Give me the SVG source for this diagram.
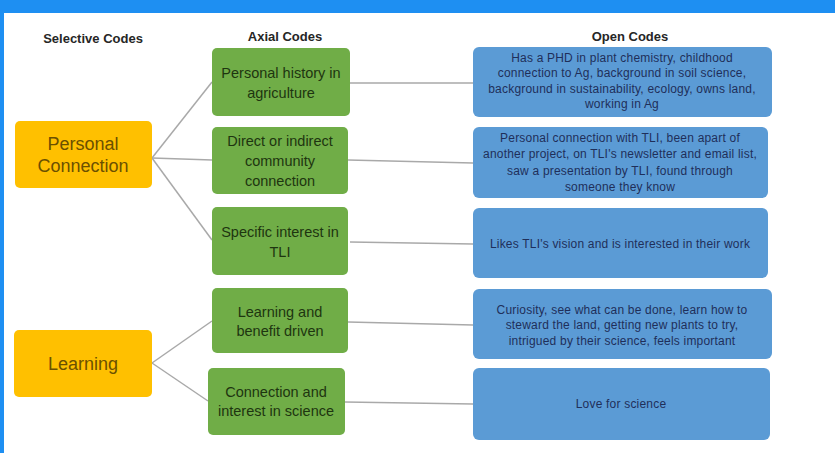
<svg xmlns="http://www.w3.org/2000/svg" width="835" height="453" viewBox="0 0 835 453">
<style>
.hdr{font-family:"Liberation Sans",Arial,sans-serif;font-size:13px;font-weight:bold;fill:#262626;text-anchor:middle}
.sel rect{fill:#FFC000}
.sel text{font-family:"Liberation Sans",Arial,sans-serif;font-size:18px;fill:#6B5000;text-anchor:middle}
.ax rect{fill:#70AD47}
.ax text{font-family:"Liberation Sans",Arial,sans-serif;font-size:14.5px;fill:#1E3510;text-anchor:middle}
.op rect{fill:#5B9BD5}
.op text{font-family:"Liberation Sans",Arial,sans-serif;font-size:12px;letter-spacing:0.2px;fill:#1F2F5A;text-anchor:middle}
#connectors line{stroke:#A9A9A9;stroke-width:1.5}
</style>
<rect width="835" height="453" fill="#FFFFFF"/>
<rect x="0" y="0" width="835" height="13" fill="#1E8FF2"/>
<rect x="0" y="0" width="4" height="453" fill="#1E8FF2"/>

<text class="hdr" x="93" y="43">Selective Codes</text>
<text class="hdr" x="285" y="41">Axial Codes</text>
<text class="hdr" x="630" y="41">Open Codes</text>

<g id="connectors">
<line x1="152" y1="158" x2="212" y2="82"/>
<line x1="152" y1="158" x2="212" y2="160"/>
<line x1="152" y1="158" x2="212" y2="240"/>
<line x1="152" y1="363" x2="212" y2="321"/>
<line x1="152" y1="363" x2="208" y2="401"/>
<line x1="350" y1="83" x2="473" y2="83"/>
<line x1="348" y1="160" x2="473" y2="163"/>
<line x1="350" y1="242" x2="473" y2="244"/>
<line x1="348" y1="322" x2="473" y2="325"/>
<line x1="345" y1="402" x2="473" y2="404"/>
</g>

<g id="sel-personal" class="sel">
<rect x="15" y="121" width="137" height="67" rx="5"/>
<text x="83" y="150">Personal</text>
<text x="83" y="172">Connection</text>
</g>
<g id="sel-learning" class="sel">
<rect x="14" y="330" width="138" height="67" rx="5"/>
<text x="83" y="370">Learning</text>
</g>

<g id="ax-history" class="ax">
<rect x="212" y="48" width="138" height="68" rx="5"/>
<text x="281" y="78">Personal history in</text>
<text x="281" y="98">agriculture</text>
</g>
<g id="ax-community" class="ax">
<rect x="212" y="127" width="136" height="67" rx="5"/>
<text x="280" y="146">Direct or indirect</text>
<text x="280" y="166">community</text>
<text x="280" y="186">connection</text>
</g>
<g id="ax-tli" class="ax">
<rect x="212" y="207" width="136" height="68" rx="5"/>
<text x="280" y="237">Specific interest in</text>
<text x="280" y="257">TLI</text>
</g>
<g id="ax-benefit" class="ax">
<rect x="212" y="288" width="136" height="65" rx="5"/>
<text x="280" y="317">Learning and</text>
<text x="280" y="336">benefit driven</text>
</g>
<g id="ax-science" class="ax">
<rect x="208" y="368" width="137" height="67" rx="5"/>
<text x="276" y="397">Connection and</text>
<text x="276" y="416">interest in science</text>
</g>

<g id="op-history" class="op">
<rect x="473" y="47" width="299" height="70" rx="6"/>
<text x="622" y="62">Has a PHD in plant chemistry, childhood</text>
<text x="622" y="77">connection to Ag, background in soil science,</text>
<text x="622" y="93">background in sustainability, ecology, owns land,</text>
<text x="622" y="108">working in Ag</text>
</g>
<g id="op-community" class="op">
<rect x="473" y="127" width="295" height="71" rx="6"/>
<text x="620" y="142">Personal connection with TLI, been apart of</text>
<text x="620" y="158">another project, on TLI's newsletter and email list,</text>
<text x="620" y="175">saw a presentation by TLI, found through</text>
<text x="620" y="191">someone they know</text>
</g>
<g id="op-tli" class="op">
<rect x="473" y="208" width="295" height="70" rx="6"/>
<text x="620" y="248">Likes TLI's vision and is interested in their work</text>
</g>
<g id="op-benefit" class="op">
<rect x="473" y="289" width="299" height="70" rx="6"/>
<text x="622" y="314">Curiosity, see what can be done,  learn how to</text>
<text x="622" y="329">steward the land,  getting new plants to try,</text>
<text x="622" y="345">intrigued by their science, feels important</text>
</g>
<g id="op-science" class="op">
<rect x="473" y="368" width="297" height="72" rx="6"/>
<text x="621" y="408">Love for science</text>
</g>
</svg>
